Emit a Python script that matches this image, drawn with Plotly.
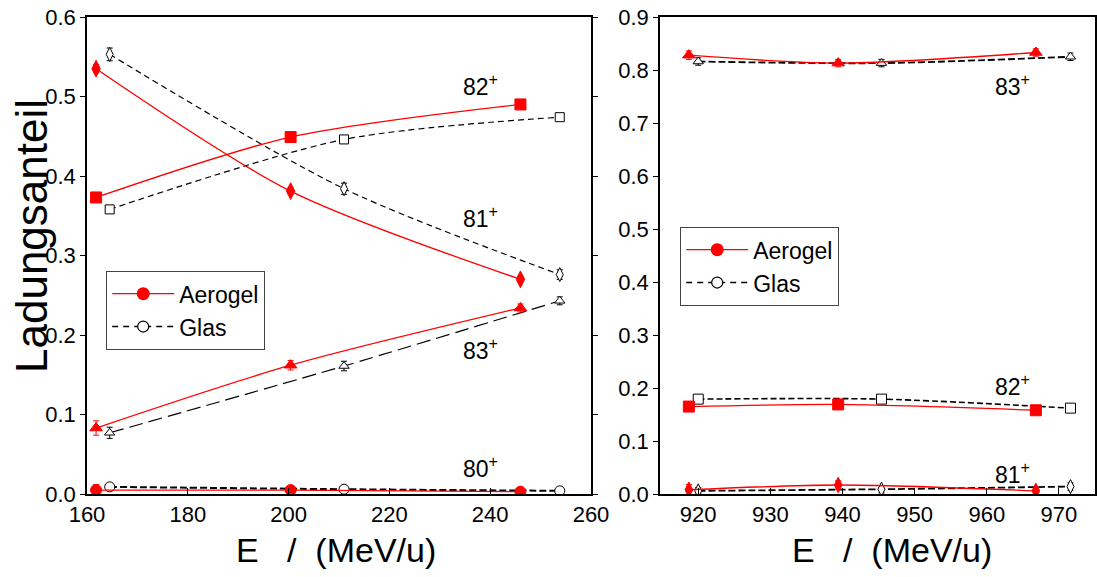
import plotly.graph_objects as go

# ---------------- data ----------------
# Left panel: lower energies
E_aero_L = [161.8, 200.4, 246.0]
E_glas_L = [164.5, 211.0, 253.8]

aero_L_80 = [0.005, 0.005, 0.003]
aero_L_81 = [0.535, 0.381, 0.270]
aero_L_82 = [0.373, 0.449, 0.490]
aero_L_83 = [0.083, 0.162, 0.234]

glas_L_80 = [0.009, 0.006, 0.004]
glas_L_81 = [0.553, 0.384, 0.276]
glas_L_82 = [0.358, 0.446, 0.474]
glas_L_83 = [0.077, 0.161, 0.243]

err_aero_L_80 = [0.007, 0.004, 0.003]
err_aero_L_81 = [0.005, 0.004, 0.004]
err_aero_L_82 = [0.004, 0.004, 0.004]
err_aero_L_83 = [0.009, 0.006, 0.005]
err_glas_L_80 = [0.003, 0.003, 0.003]
err_glas_L_81 = [0.008, 0.007, 0.006]
err_glas_L_82 = [0.004, 0.004, 0.004]
err_glas_L_83 = [0.007, 0.006, 0.005]

# Right panel: higher energies
E_aero_R = [918.7, 939.4, 966.8]
E_glas_R = [920.0, 945.4, 971.6]

aero_R_81 = [0.008, 0.017, 0.006]
aero_R_82 = [0.165, 0.169, 0.158]
aero_R_83 = [0.828, 0.813, 0.833]

glas_R_81 = [0.006, 0.009, 0.014]
glas_R_82 = [0.179, 0.179, 0.162]
glas_R_83 = [0.816, 0.813, 0.825]

err_aero_R_81 = [0.010, 0.008, 0.006]
err_aero_R_82 = [0.005, 0.005, 0.005]
err_aero_R_83 = [0.008, 0.007, 0.007]
err_glas_R_81 = [0.006, 0.007, 0.007]
err_glas_R_82 = [0.005, 0.005, 0.005]
err_glas_R_83 = [0.007, 0.007, 0.007]

x_ticks_L = [160, 180, 200, 220, 240, 260]
y_ticks_L = [0.0, 0.1, 0.2, 0.3, 0.4, 0.5, 0.6]
x_ticks_R = [920, 930, 940, 950, 960, 970]
y_ticks_R = [0.0, 0.1, 0.2, 0.3, 0.4, 0.5, 0.6, 0.7, 0.8, 0.9]

labels_L = ["80<sup>+</sup>", "81<sup>+</sup>", "82<sup>+</sup>", "83<sup>+</sup>"]
labels_L_pos = [(238.0, 0.034), (238.0, 0.349), (238.0, 0.514), (238.0, 0.183)]
labels_R = ["81<sup>+</sup>", "82<sup>+</sup>", "83<sup>+</sup>"]
labels_R_pos = [(963.5, 0.040), (963.5, 0.206), (963.5, 0.772)]

RED = "#ff0000"
BLACK = "#000000"
FONT = "Liberation Sans, Arial, sans-serif"

# the page body margin is removed (post_script), so the figure fills the window
W, H = 1097, 577


def fx(px):
    return px / W


def fy(py):
    return 1 - py / H


fig = go.Figure()


def aero(x, y, err, sym, xa, ya, size=11):
    fig.add_trace(go.Scatter(
        x=x, y=y, mode="lines+markers", xaxis=xa, yaxis=ya, showlegend=False,
        line=dict(color=RED, width=1.3, shape="spline", smoothing=0.8),
        marker=dict(symbol=sym, size=size, color=RED, line=dict(color=RED, width=1)),
        error_y=dict(type="data", array=err, color=RED, thickness=1, width=3),
    ))


def glas(x, y, err, sym, xa, ya, dash, width=1.2, size=10):
    fig.add_trace(go.Scatter(
        x=x, y=y, mode="lines+markers", xaxis=xa, yaxis=ya, showlegend=False,
        line=dict(color=BLACK, width=width, dash=dash, shape="spline", smoothing=0.8),
        marker=dict(symbol=sym, size=size, color="white", line=dict(color=BLACK, width=1)),
        error_y=dict(type="data", array=err, color=BLACK, thickness=1, width=3),
    ))


# left panel
glas(E_glas_L, glas_L_81, err_glas_L_81, "diamond-tall", "x", "y", "6px,4px")
glas(E_glas_L, glas_L_82, err_glas_L_82, "square", "x", "y", "6px,4px", size=9)
glas(E_glas_L, glas_L_83, err_glas_L_83, "triangle-up", "x", "y", "14px,6px", size=9)
glas(E_glas_L, glas_L_80, err_glas_L_80, "circle", "x", "y", "7px,3px", width=2, size=10)
aero(E_aero_L, aero_L_81, err_aero_L_81, "diamond-tall", "x", "y", size=12)
aero(E_aero_L, aero_L_82, err_aero_L_82, "square", "x", "y", size=11)
aero(E_aero_L, aero_L_83, err_aero_L_83, "triangle-up", "x", "y", size=11)
aero(E_aero_L, aero_L_80, err_aero_L_80, "circle", "x", "y", size=11)

# right panel
glas(E_glas_R, glas_R_83, err_glas_R_83, "triangle-up", "x2", "y2", "7px,3px", width=1.8, size=9)
glas(E_glas_R, glas_R_82, err_glas_R_82, "square", "x2", "y2", "6px,3px", width=1.6, size=10)
glas(E_glas_R, glas_R_81, err_glas_R_81, "diamond-tall", "x2", "y2", "7px,3px", width=1.8, size=10)
aero(E_aero_R, aero_R_83, err_aero_R_83, "triangle-up", "x2", "y2", size=11)
aero(E_aero_R, aero_R_82, err_aero_R_82, "square", "x2", "y2", size=11)
aero(E_aero_R, aero_R_81, err_aero_R_81, "diamond-tall", "x2", "y2", size=11)

# legend entries
for lg, xa, ya in (("legend", "x", "y"), ("legend2", "x2", "y2")):
    fig.add_trace(go.Scatter(
        x=[None], y=[None], mode="lines+markers", name="Aerogel", legend=lg,
        xaxis=xa, yaxis=ya,
        line=dict(color=RED, width=1.3),
        marker=dict(symbol="circle", size=13, color=RED),
    ))
    fig.add_trace(go.Scatter(
        x=[None], y=[None], mode="lines+markers", name="Glas", legend=lg,
        xaxis=xa, yaxis=ya,
        line=dict(color=BLACK, width=1.5, dash="6px,5px"),
        marker=dict(symbol="circle", size=11, color="white", line=dict(color=BLACK, width=1.2)),
    ))

annotations = []
for txt, (ax_, ay_) in zip(labels_L, labels_L_pos):
    annotations.append(dict(x=ax_, y=ay_, xref="x", yref="y", text=txt, showarrow=False,
                            xanchor="center", yanchor="middle",
                            font=dict(size=23, family=FONT, color=BLACK)))
for txt, (ax_, ay_) in zip(labels_R, labels_R_pos):
    annotations.append(dict(x=ax_, y=ay_, xref="x2", yref="y2", text=txt, showarrow=False,
                            xanchor="center", yanchor="middle",
                            font=dict(size=23, family=FONT, color=BLACK)))

# axis titles as paper annotations
annotations.append(dict(x=fx(336), y=fy(550), xref="paper", yref="paper",
                        text="E   /  (MeV/u)", showarrow=False,
                        xanchor="center", yanchor="middle",
                        font=dict(size=34, family=FONT, color=BLACK)))
annotations.append(dict(x=fx(892), y=fy(550), xref="paper", yref="paper",
                        text="E   /  (MeV/u)", showarrow=False,
                        xanchor="center", yanchor="middle",
                        font=dict(size=34, family=FONT, color=BLACK)))
annotations.append(dict(x=fx(31), y=fy(236), xref="paper", yref="paper",
                        text="Ladungsanteil", showarrow=False, textangle=-90,
                        xanchor="center", yanchor="middle",
                        font=dict(size=44, family=FONT, color=BLACK)))

ydom = [fy(494), fy(17)]
axis_common = dict(showgrid=False, zeroline=False, showline=True, linecolor=BLACK,
                   linewidth=1.5, tickwidth=1.2, tickcolor=BLACK, automargin=False,
                   ticklabeloverflow="allow",
                   tickfont=dict(size=22, family=FONT, color=BLACK))
xaxis_common = dict(ticks="inside", ticklen=6, mirror=True, **axis_common)
yaxis_common = dict(ticks="outside", ticklen=5, mirror="ticks", tickformat=".1f", **axis_common)

fig.update_layout(
    width=W, height=H,
    margin=dict(l=0, r=0, t=0, b=0, pad=0),
    paper_bgcolor="white", plot_bgcolor="white",
    font=dict(family=FONT, color=BLACK),
    xaxis=dict(domain=[fx(87), fx(591)], range=[160, 260], tickvals=x_ticks_L,
               anchor="y", **xaxis_common),
    yaxis=dict(domain=ydom, range=[0, 0.6], tickvals=y_ticks_L,
               anchor="x", **yaxis_common),
    xaxis2=dict(domain=[fx(660), fx(1095)], range=[914.7, 975.0], tickvals=x_ticks_R,
                anchor="y2", **xaxis_common),
    yaxis2=dict(domain=ydom, range=[0, 0.9], tickvals=y_ticks_R,
                anchor="x2", **yaxis_common),
    legend=dict(x=fx(106), y=fy(271), xanchor="left", yanchor="top",
                bgcolor="white", bordercolor="#444", borderwidth=1.2,
                font=dict(size=23, family=FONT, color=BLACK), itemwidth=62,
                tracegroupgap=0),
    legend2=dict(x=fx(680), y=fy(227), xanchor="left", yanchor="top",
                 bgcolor="white", bordercolor="#444", borderwidth=1.2,
                 font=dict(size=23, family=FONT, color=BLACK), itemwidth=62,
                 tracegroupgap=0),
    annotations=annotations,
)

fig.write_html("out.html",
               config={"displayModeBar": False},
               post_script="document.body.style.margin='0px';"
                           "document.body.style.overflow='hidden';")
